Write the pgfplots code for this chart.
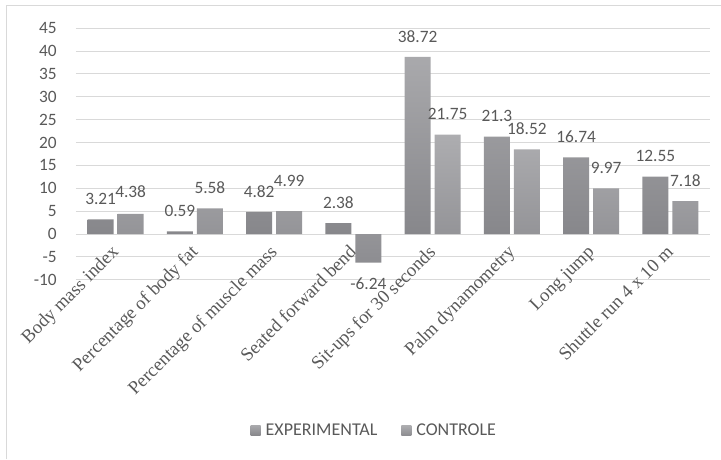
\documentclass[border=0pt]{standalone}
\usepackage{fontspec}
\setmainfont{Carlito}
\newfontfamily\timesf{Liberation Serif}
\usepackage{pgfplots}
\usepackage{pgfplotstable}
\pgfplotsset{compat=1.18}
\definecolor{txt}{HTML}{595959}
\definecolor{gridc}{HTML}{D9D9D9}
\definecolor{etop}{HTML}{A9A9AC}
\definecolor{ebot}{HTML}{87878B}
\definecolor{ctop}{HTML}{ADADB0}
\definecolor{cbot}{HTML}{8D8D91}

\pgfplotstableread{
x y dy
0 3.21 10.9
1 0.59 10.9
2 4.82 10.9
3 2.38 10.9
4 38.72 10.9
5 21.3 10.9
6 16.74 10.9
7 12.55 10.9
}\expdata

\pgfplotstableread{
x y dy
0 4.38 12.4
1 5.58 10.9
2 4.99 18.4
3 -6.24 -11.6
4 21.75 10.9
5 18.52 10.9
6 9.97 10.9
7 7.18 10.9
}\condata

\begin{document}
\begin{tikzpicture}
\useasboundingbox (-57pt,-134.5pt) rectangle (483.75pt,209.8pt);
\draw[gridc, line width=0.75pt] (-51.75pt,-134.5pt) -- (-51.75pt,206pt) -- (483.75pt,206pt);
\begin{axis}[
  at={(0,0)}, anchor=south west,
  scale only axis,
  width=475.5pt, height=188.6pt,
  xmin=-0.5, xmax=7.5,
  ymin=-10, ymax=45,
  ytick={-10,-5,0,5,10,15,20,25,30,35,40,45},
  yticklabels={-10,-5,0,5,10,15,20,25,30,35,40,45},
  xtick={0,1,2,3,4,5,6,7},
  xticklabels={Body mass index, Percentage of body fat, Percentage of muscle mass, Seated forward bend, Sit-ups for 30 seconds, Palm dynamometry, Long jump, Shuttle run 4 x 10 m},
  axis line style={draw=none},
  major tick length=0pt,
  ymajorgrids,
  grid style={gridc, line width=0.75pt},
  xticklabel style={font=\timesf\fontsize{14}{16}\selectfont, text=txt, xshift=3pt, yshift=20pt, rotate=45, anchor=base east, inner sep=0pt},
  yticklabel style={font=\fontsize{13}{15}\selectfont, text=txt, anchor=east, inner sep=0pt, xshift=-14.25pt},
  /pgf/number format/assume math mode=true,
  ybar=3pt, bar width=19.5pt,
  nodes near coords,
  visualization depends on={\thisrow{dy} \as \dy},
  every node near coord/.append style={font=\fontsize{13}{15}\selectfont, text=txt, inner sep=0pt, yshift=\dy pt},
  legend columns=2,
  legend style={draw=none, fill=none, at={(0.469,-0.599)}, anchor=center,
    font=\fontsize{13.5}{16}\selectfont, text=txt, nodes={inner sep=0pt},
    /tikz/every odd column/.append style={column sep=3.75pt},
    /tikz/every even column/.append style={column sep=18pt}},
  legend image code/.code={\path[#1, draw=none] (0pt,-3.75pt) rectangle (7.5pt,3.75pt);},
]
\addplot[draw=none, top color=etop, bottom color=ebot] table[x=x, y=y] {\expdata};
\addplot[draw=none, top color=ctop, bottom color=cbot] table[x=x, y=y] {\condata};
\legend{EXPERIMENTAL, CONTROLE}
\end{axis}
\end{tikzpicture}
\end{document}
